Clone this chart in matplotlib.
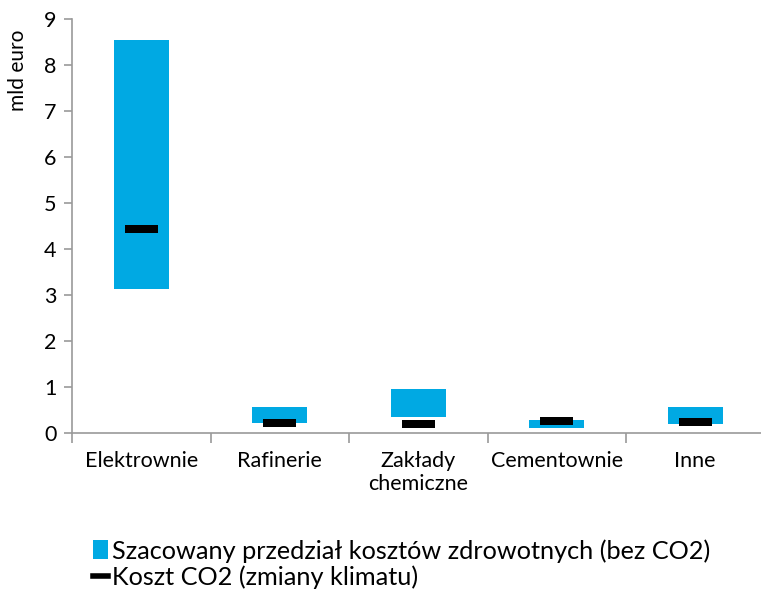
import matplotlib.pyplot as plt
from matplotlib.patches import Patch
from matplotlib.lines import Line2D
import numpy as np

# --------------------- Data --------------------- #
categories = ["Elektrownie", "Rafinerie", "Zakłady\nchemiczne", "Cementownie", "Inne"]
health_low = [3.13, 0.22, 0.35, 0.11, 0.20]
health_high = [8.55, 0.57, 0.96, 0.28, 0.57]
co2_cost = [4.44, 0.22, 0.20, 0.26, 0.24]

blue = "#00A9E3"
grey = "#9a9a9a"

plt.rcParams['font.family'] = ['Lato', 'DejaVu Sans']

fig = plt.figure(figsize=(7.61, 5.99), dpi=100)
ax = fig.add_axes([72 / 761, (599 - 433) / 599, 692.5 / 761, 414 / 599])

x = np.arange(len(categories))
heights = [h - l for h, l in zip(health_high, health_low)]
ax.bar(x, heights, bottom=health_low, width=0.4, color=blue, zorder=2)

# CO2 cost markers drawn as short thick bars
mark_h = 0.17
ax.bar(x, [mark_h] * len(x), bottom=[c - mark_h / 2 for c in co2_cost],
       width=0.24, color="black", zorder=3)

ax.set_xlim(-0.5, len(categories) - 0.5)
ax.set_ylim(0, 9)
ax.set_yticks(range(0, 10))

# ticks at category boundaries, labels at centres
ax.set_xticks(np.arange(-0.5, len(categories)), [""] * (len(categories) + 1))
ax.set_xticks(x, categories, minor=True)
ax.tick_params(axis='x', which='major', length=7, width=1.2, color=grey, direction='out')
ax.tick_params(axis='x', which='minor', length=0, pad=13, labelsize=15.5)
ax.tick_params(axis='y', length=6, width=1.2, color=grey, labelsize=15.5, pad=5)

for side in ['top', 'right']:
    ax.spines[side].set_visible(False)
for side in ['left', 'bottom']:
    ax.spines[side].set_color(grey)
    ax.spines[side].set_linewidth(1.2)

ax.set_ylabel("mld euro", fontsize=15)
ax.yaxis.set_label_coords(-0.063, 0.875)

handles = [
    Patch(facecolor=blue, edgecolor='none'),
    Line2D([0], [0], color='black', linewidth=4),
]
labels = ["Szacowany przedział kosztów zdrowotnych (bez CO2)", "Koszt CO2 (zmiany klimatu)"]
fig.legend(handles, labels, loc='upper left', bbox_to_anchor=(93 / 761, 1 - 539 / 599),
           frameon=False, fontsize=18.2, handlelength=0.6, handleheight=0.8,
           handletextpad=0.15, labelspacing=0.12, borderaxespad=0, borderpad=0)

plt.savefig("out.png", dpi=100)
plt.close()
